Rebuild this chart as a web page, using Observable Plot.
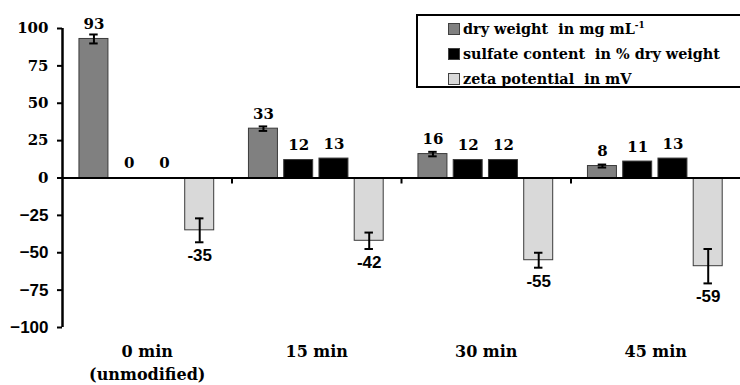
<!DOCTYPE html>
<html>
<head>
<meta charset="utf-8">
<script src="https://cdn.jsdelivr.net/npm/d3@7"></script>
<script src="https://cdn.jsdelivr.net/npm/@observablehq/plot@0.6"></script>
<style>
  html, body { margin: 0; padding: 0; background: #fff; }
  #wrap { position: relative; width: 740px; height: 385px; overflow: hidden; }
  #legend {
    position: absolute; left: 416px; top: 14px; width: 340px; height: 74px;
    border: 2px solid #000; box-sizing: border-box; background: #fff;
    font-family: "DejaVu Serif", serif; font-weight: bold; font-size: 14.4px; color: #000;
  }
  .row { position: absolute; left: 30px; height: 20px; line-height: 20px; white-space: nowrap; }
  .sw { display: inline-block; width: 10px; height: 10px; border: 1px solid #404040; margin-right: 3px; vertical-align: -1px; }
  sup { font-size: 9px; vertical-align: 6px; line-height: 0; }
</style>
</head>
<body>
<div id="wrap">
  <div id="chart"></div>
  <div id="legend"></div>
</div>
<script>
// ---- data ----
const groups = ["0 min\n(unmodified)", "15 min", "30 min", "45 min"];
const seriesKeys = ["dry", "sulfateA", "sulfateB", "zeta"];
const dryWeight = [93, 33, 16, 8];
const dryWeightErr = [3, 1.5, 1.5, 1];
const sulfateA = [0, 12, 12, 11];
const sulfateB = [0, 13, 12, 13];
const zeta = [-35, -42, -55, -59];
const zetaErr = [8, 5.5, 5, 11.5];
const yTicksPos = [0, 25, 50, 75, 100];
const yTicksNeg = [-100, -75, -50, -25];
const legendItems = [
  {key: "dry", html: "dry weight&nbsp; in mg mL<sup>-1</sup>"},
  {key: "sulfateA", html: "sulfate content&nbsp; in % dry weight"},
  {key: "zeta", html: "zeta potential&nbsp; in mV"}
];

// ---- styles ----
const colors = ["#808080", "#000000", "#000000", "#d9d9d9"];
const serif = "DejaVu Serif";
const sans = "Liberation Sans";

// layout within a group (group units)
const barOffset = 0.1, barStep = 0.208, barWidth = 0.171, capHalf = 0.025;

const valuesBySeries = {dry: dryWeight, sulfateA, sulfateB, zeta};
const errBySeries = {dry: dryWeightErr, zeta: zetaErr};

const table = [];
groups.forEach((g, gi) => {
  seriesKeys.forEach((s, si) => {
    const x1 = gi + barOffset + si * barStep;
    const v = valuesBySeries[s][gi];
    const e = errBySeries[s] ? errBySeries[s][gi] : 0;
    table.push({group: g, series: s, x1, x2: x1 + barWidth, cx: x1 + barWidth / 2, value: v, err: e});
  });
});
const withErr = table.filter(d => d.err > 0);
const posLabels = table.filter(d => d.value >= 0);
const negLabels = table.filter(d => d.value < 0);

const plot = Plot.plot({
  width: 740,
  height: 385,
  marginLeft: 62,
  marginRight: 0,
  marginTop: 28,
  marginBottom: 58,
  style: {background: "#fff", color: "#000"},
  x: {domain: [0, groups.length], axis: null},
  y: {domain: [-100, 100], axis: null},
  color: {domain: seriesKeys, range: colors},
  marks: [
    Plot.rectY(table, {x1: "x1", x2: "x2", y1: 0, y2: "value", fill: "series", stroke: "#3a3a3a", strokeWidth: 1}),
    Plot.ruleY([0], {x1: 0, x2: groups.length, stroke: "#000", strokeWidth: 2}),
    Plot.ruleX([1, 2, 3], {x: d => d, y1: 0, y2: 0, insetBottom: -6, stroke: "#000", strokeWidth: 2}),
    Plot.ruleX([0], {y1: -100, y2: 100, stroke: "#000", strokeWidth: 2.5}),
    Plot.axisY({ticks: yTicksPos, tickSize: 5, tickPadding: 9, strokeWidth: 2, fontFamily: serif, fontWeight: "bold", fontSize: 15, label: null}),
    Plot.axisY({ticks: yTicksNeg, tickSize: 5, tickPadding: 9, strokeWidth: 2, fontFamily: sans, fontWeight: "bold", fontSize: 17, label: null}),
    // error bars
    Plot.ruleX(withErr, {x: "cx", y1: d => d.value - d.err, y2: d => d.value + d.err, stroke: "#000", strokeWidth: 2}),
    Plot.ruleY(withErr, {y: d => d.value + d.err, x1: d => d.cx - capHalf, x2: d => d.cx + capHalf, stroke: "#000", strokeWidth: 2}),
    Plot.ruleY(withErr, {y: d => d.value - d.err, x1: d => d.cx - capHalf, x2: d => d.cx + capHalf, stroke: "#000", strokeWidth: 2}),
    // value labels
    Plot.text(posLabels, {x: "cx", y: "value", text: d => String(d.value), dy: -10, lineAnchor: "bottom",
      fontFamily: serif, fontWeight: "bold", fontSize: 15, fill: "#000"}),
    Plot.text(negLabels, {x: "cx", y: d => d.value - d.err, text: d => String(d.value), dy: 7, lineAnchor: "top",
      fontFamily: sans, fontWeight: "bold", fontSize: 17, fill: "#000"}),
    // group labels
    Plot.text(groups, {x: (d, i) => i + 0.5, frameAnchor: "bottom", text: d => d, lineAnchor: "top", dy: 13,
      lineHeight: 1.45, fontFamily: serif, fontWeight: "bold", fontSize: 16, fill: "#000"})
  ]
});
document.getElementById("chart").appendChild(plot);

const legend = document.getElementById("legend");
legendItems.forEach((item, i) => {
  const row = document.createElement("div");
  row.className = "row";
  row.style.top = (3 + i * 25) + "px";
  const sw = document.createElement("span");
  sw.className = "sw";
  sw.style.background = colors[seriesKeys.indexOf(item.key)];
  row.appendChild(sw);
  const t = document.createElement("span");
  t.innerHTML = item.html;
  row.appendChild(t);
  legend.appendChild(row);
});
</script>
</body>
</html>
